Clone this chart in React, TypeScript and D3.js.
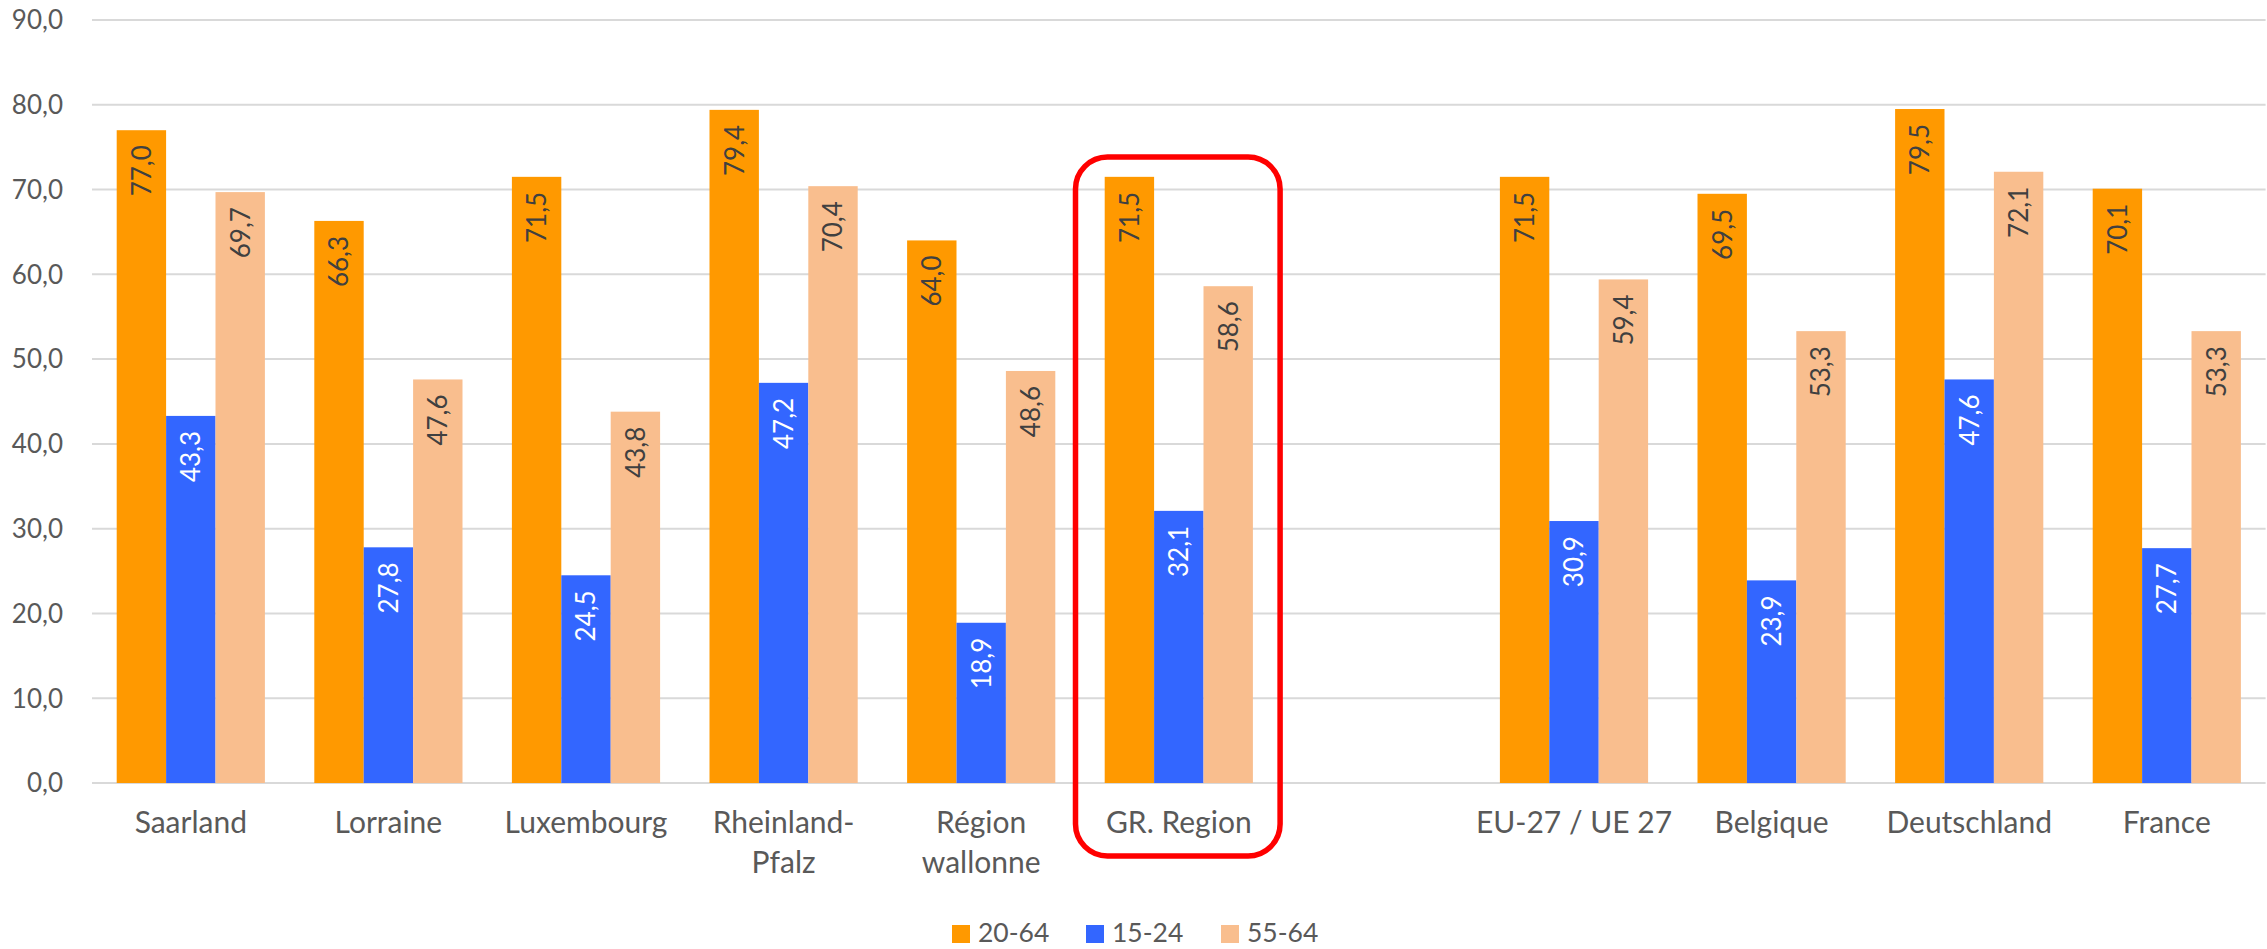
import React from "react";
import * as d3 from "d3";

const categories: string[] = [
  "Saarland",
  "Lorraine",
  "Luxembourg",
  "Rheinland-\nPfalz",
  "Région\nwallonne",
  "GR. Region",
  "",
  "EU-27 / UE 27",
  "Belgique",
  "Deutschland",
  "France",
];

const seriesNames: string[] = ["20-64", "15-24", "55-64"];
const values2064: (number | null)[] = [77.0, 66.3, 71.5, 79.4, 64.0, 71.5, null, 71.5, 69.5, 79.5, 70.1];
const values1524: (number | null)[] = [43.3, 27.8, 24.5, 47.2, 18.9, 32.1, null, 30.9, 23.9, 47.6, 27.7];
const values5564: (number | null)[] = [69.7, 47.6, 43.8, 70.4, 48.6, 58.6, null, 59.4, 53.3, 72.1, 53.3];
const yTicks: number[] = [0, 10, 20, 30, 40, 50, 60, 70, 80, 90];
const highlighted = "GR. Region";

const colors = ["#FF9900", "#3366FF", "#F9BE8E"];
const labelColors = ["#404040", "#FFFFFF", "#404040"];

const W = 2267;
const H = 949;
const left = 92;
const right = 2265.6;
const top = 20;
const bottom = 783;
const FONT = "Lato, 'Open Sans', sans-serif";

const fmt = (v: number) => v.toFixed(1).replace(".", ",");

export default function App() {
  const series = [values2064, values1524, values5564];
  const x = d3.scaleBand<string>().domain(categories.map((c, i) => String(i))).range([left, right]).padding(0);
  const bw = x.bandwidth();
  const x1 = d3
    .scaleBand<string>()
    .domain(seriesNames)
    .range([bw * 0.125, bw * 0.875])
    .padding(0);
  const y = d3.scaleLinear().domain([0, 90]).range([bottom, top]);

  const hiIdx = categories.indexOf(highlighted);
  const hiX = x(String(hiIdx))!;

  return (
    <svg width={W} height={H} style={{ position: "absolute", left: 0, top: 0, background: "#fff" }} fontFamily={FONT}>
      <rect x={0} y={0} width={W} height={H} fill="#fff" />
      {yTicks.map((t) => (
        <g key={t}>
          <line x1={left} x2={right} y1={y(t)} y2={y(t)} stroke="#D9D9D9" strokeWidth={2} />
          <text x={63} y={y(t)} dy="0.36em" textAnchor="end" fontSize={26} fill="#595959">
            {fmt(t)}
          </text>
        </g>
      ))}
      {categories.map((c, ci) => (
        <g key={ci} transform={`translate(${x(String(ci))},0)`}>
          {series.map((s, si) => {
            const v = s[ci];
            if (v === null) return null;
            const bx = x1(seriesNames[si])!;
            const w = x1.bandwidth();
            return (
              <g key={si}>
                <rect x={bx} y={y(v)} width={w} height={y(0) - y(v)} fill={colors[si]} />
                <text
                  transform={`translate(${bx + w / 2},${y(v) + 15}) rotate(-90)`}
                  textAnchor="end"
                  dy="0.36em"
                  fontSize={26}
                  fill={labelColors[si]}
                >
                  {fmt(v)}
                </text>
              </g>
            );
          })}
          {c.split("\n").map((line, li) => (
            <text key={li} x={bw / 2} y={833 + li * 40} textAnchor="middle" fontSize={30} fill="#595959">
              {line}
            </text>
          ))}
        </g>
      ))}
      <rect
        x={hiX - 4.5}
        y={157}
        width={bw + 7}
        height={699}
        rx={32}
        ry={32}
        fill="none"
        stroke="#FF0000"
        strokeWidth={5.5}
      />
      {seriesNames.map((n, i) => {
        const lx = [952, 1086, 1221][i];
        return (
          <g key={n}>
            <rect x={lx} y={925} width={18} height={18} fill={colors[i]} />
            <text x={lx + 26} y={942} fontSize={26.5} fill="#595959">
              {n}
            </text>
          </g>
        );
      })}
    </svg>
  );
}
